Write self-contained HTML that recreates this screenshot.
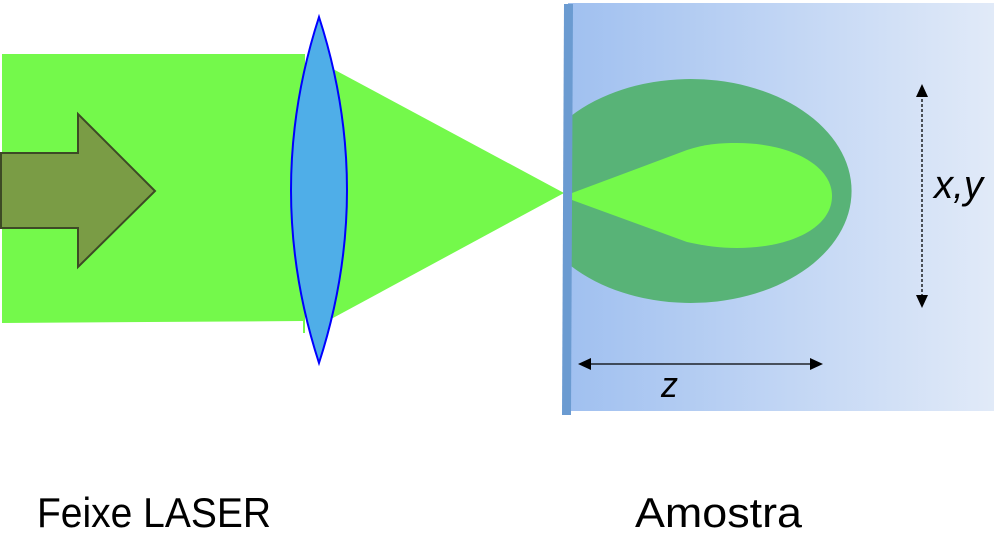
<!DOCTYPE html>
<html><head><meta charset="utf-8"><style>
html,body{margin:0;padding:0;background:#fff;}
svg{display:block;}
</style></head><body>
<svg width="1008" height="554" viewBox="0 0 1008 554" xmlns="http://www.w3.org/2000/svg">
<defs>
<linearGradient id="bg" x1="0" y1="0" x2="1" y2="0">
<stop offset="0" stop-color="#a0c0f0"/>
<stop offset="1" stop-color="#e1eaf8"/>
</linearGradient>
</defs>
<!-- sample box -->
<rect x="568" y="3" width="426" height="408" fill="url(#bg)"/>
<!-- laser beam rect -->
<polygon points="2,54 305,54 305,333 303,333 303,321 2,323" fill="#74f94b"/>
<!-- converging triangle -->
<polygon points="320,62 564,193 320,325" fill="#74f94b"/>
<!-- dark green ellipse -->
<path d="M571,116 A161,112 0 1 1 571,266 Z" fill="#58b377"/>
<!-- light green teardrop -->
<path d="M572,193 L687,150 C705,144 720,143 737,143 C790,143 832,165 832,196 C832,228 790,248 737,248 C720,248 705,246 687,242 L572,200 Z" fill="#74f94b"/>
<!-- blue bar -->
<polygon points="564,4 573,4 571,415 562,415" fill="#6b9bd1"/>
<!-- lens -->
<path d="M319,17 Q263,190 319,363 Q375,190 319,17 Z" fill="#4faee8" stroke="#0000ff" stroke-width="2"/>
<!-- arrow -->
<polygon points="1,153 78,153 78,114 155,191 78,267 78,228 1,228" fill="#7a9c45" stroke="#3d4a25" stroke-width="2"/>
<!-- dashed vertical arrow -->
<line x1="922" y1="94" x2="922" y2="298" stroke="#000" stroke-width="1.3" stroke-dasharray="3,2"/>
<polygon points="922,84 916,97 928,97" fill="#000"/>
<polygon points="922,308 916,295 928,295" fill="#000"/>
<!-- z arrow -->
<line x1="588" y1="364" x2="812" y2="364" stroke="#000" stroke-width="1.3"/>
<polygon points="578,364 591,358 591,370" fill="#000"/>
<polygon points="823,364 810,358 810,370" fill="#000"/>
<!-- labels -->
<text x="934" y="198" font-family="Liberation Sans, sans-serif" font-style="italic" font-size="40" fill="#000" textLength="49" lengthAdjust="spacingAndGlyphs">x,y</text>
<text x="661" y="397" font-family="Liberation Sans, sans-serif" font-style="italic" font-size="36" fill="#000" textLength="17" lengthAdjust="spacingAndGlyphs">z</text>
<text x="37" y="527" font-family="Liberation Sans, sans-serif" font-size="42" fill="#000" textLength="234" lengthAdjust="spacingAndGlyphs">Feixe LASER</text>
<text x="635" y="527" font-family="Liberation Sans, sans-serif" font-size="42" fill="#000" textLength="167" lengthAdjust="spacingAndGlyphs">Amostra</text>
</svg>
</body></html>
